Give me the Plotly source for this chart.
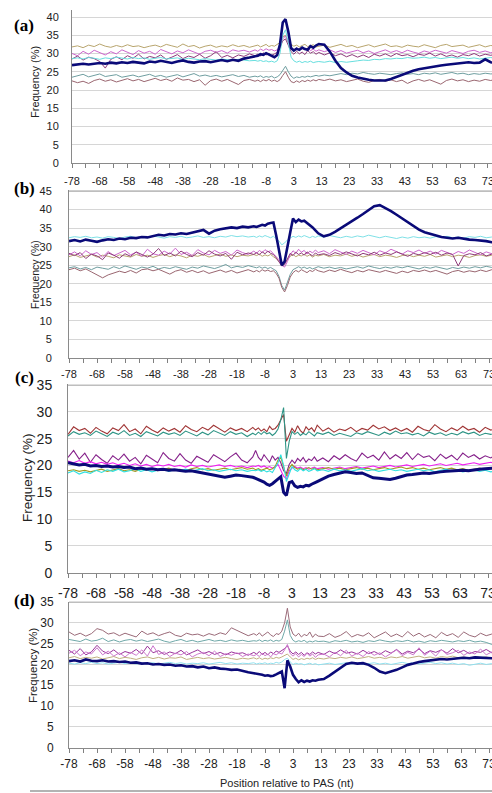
import plotly.graph_objects as go

W, H = 492, 793

# ---------------- category positions (nt relative to PAS; there is no 0) ----------------
POS = [-78, -76, -74, -72, -70, -68, -66, -64, -62, -60, -58, -56, -54, -52, -50, -48, -46,
       -44, -42, -40, -38, -36, -34, -32, -30, -28, -26, -24, -22, -20, -18, -16, -14, -12,
       -11, -10, -9, -8, -7, -6, -5, -4, -3, -2, -1,
       1, 2, 3, 4, 5, 6, 7, 8, 9, 10, 11, 12,
       14, 16, 18, 20, 22, 24, 26, 28, 30, 32, 34, 36, 38, 40, 42, 44, 46, 48, 50, 52, 54,
       56, 58, 60, 62, 64, 66, 68, 70, 72, 74, 76]
TICK_POS = [-78, -68, -58, -48, -38, -28, -18, -8, 3, 13, 23, 33, 43, 53, 63, 73]
Y_TICKS_A = [0, 5, 10, 15, 20, 25, 30, 35, 40]
Y_TICKS_B = [0, 5, 10, 15, 20, 25, 30, 35, 40, 45]
Y_TICKS_CD = [0, 5, 10, 15, 20, 25, 30, 35]

# ---------------- panel (a) ----------------
A_OLIVE = [31.8, 32.1, 31.6, 32.3, 31.9, 32.6, 32.0, 31.7, 32.2, 31.8, 32.4, 31.9, 32.1, 31.6, 32.0, 32.3, 31.8, 32.5, 32.1, 31.7, 32.6, 31.9, 32.2, 31.5, 32.0, 32.3, 31.7, 32.1, 31.8, 32.4, 31.9, 32.2, 31.7, 32.0,
           32.3, 31.8, 32.1, 32.5, 31.9, 32.2, 32.0, 32.4, 33.0, 34.5, 35.0,
           33.0, 32.4, 32.0, 32.3, 31.8, 32.2, 32.5, 31.9, 32.1, 32.4, 31.8, 32.0,
           32.3, 31.7, 32.1, 32.5, 31.9, 32.2, 31.6, 32.0, 32.4, 31.8, 32.2, 32.6, 31.9, 32.1, 31.7, 32.3, 32.0, 31.8, 32.4, 32.1, 31.6, 32.2, 32.5, 31.9, 32.0, 32.3, 31.7, 32.1, 32.4, 31.8, 32.2, 32.0]
A_ORCHID = [30.0, 29.4, 30.6, 29.8, 30.9, 30.2, 29.6, 30.5, 29.9, 31.0, 30.3, 29.7, 30.8, 30.1, 30.6, 29.8, 31.1, 30.4, 29.9, 30.7, 30.2, 31.0, 30.5, 29.8, 30.6, 30.9, 30.3, 30.8, 30.1, 31.0, 30.6, 30.9, 30.4, 31.0,
            30.6, 31.2, 30.8, 31.3, 30.9, 31.1, 30.7, 31.0, 32.0, 34.0, 34.8,
            33.0, 31.5, 31.0, 31.6, 30.9, 31.4, 31.0, 31.5, 30.8, 31.2, 30.6, 31.0,
            30.5, 31.0, 30.3, 30.8, 30.1, 30.6, 30.9, 30.2, 30.7, 30.0, 30.5, 31.0, 30.3, 30.8, 30.2, 30.9, 30.4, 30.0, 30.7, 30.3, 30.9, 30.5, 30.1, 30.8, 30.4, 30.0, 30.6, 30.9, 30.3, 30.7, 30.2, 30.5]
A_PURPLE = [28.5, 29.3, 28.2, 29.0, 28.6, 27.8, 26.0, 28.4, 29.1, 28.3, 29.4, 28.7, 29.8, 28.5, 29.2, 28.8, 29.6, 28.4, 29.0, 29.7, 28.6, 29.3, 28.9, 29.8, 28.7, 29.4, 30.5, 28.9, 29.5, 28.8, 29.6, 29.2, 29.9, 29.4,
            29.8, 29.3, 30.2, 29.6, 30.0, 29.5, 29.9, 30.3, 31.5, 33.5, 34.0,
            32.0, 30.5, 29.8, 30.6, 29.9, 30.4, 29.7, 30.8, 30.1, 30.5, 29.8, 30.3,
            29.6, 30.2, 29.4, 29.9, 29.1, 29.7, 29.0, 29.6, 28.9, 29.8, 29.3, 29.9, 29.2, 30.0, 29.4, 29.7, 29.1, 29.8, 29.5, 30.1, 29.3, 29.9, 29.2, 29.6, 29.0, 29.7, 29.4, 30.0, 29.3, 29.8, 29.5, 29.9]
A_CYAN = [28.6, 28.8, 28.5, 28.9, 28.7, 28.4, 28.8, 28.6, 29.0, 28.7, 28.5, 28.9, 28.6, 28.8, 28.4, 28.7, 28.9, 28.5, 28.6, 28.8, 28.4, 28.7, 28.5, 28.3, 28.6, 28.4, 28.2, 28.5, 28.3, 28.1, 28.4, 28.2, 28.0, 28.1,
          27.9, 28.1, 27.8, 28.0, 27.7, 27.9, 27.6, 28.0, 30.0, 35.0, 36.5,
          33.0, 29.0, 28.0, 27.6, 27.9, 27.5, 27.8, 27.6, 27.9, 27.5, 27.7, 27.8,
          27.6, 27.9, 27.5, 27.8, 27.6, 27.9, 28.0, 28.2, 28.1, 28.4, 28.3, 28.6, 28.5, 28.7, 28.6, 28.9, 28.7, 28.8, 29.0, 28.7, 28.9, 28.6, 28.8, 29.0, 28.7, 28.9, 28.6, 28.8, 28.5, 28.7, 28.9, 28.6]
A_TEAL = [23.5, 23.8, 24.3, 23.6, 24.0, 24.4, 23.7, 23.9, 24.2, 23.5, 23.8, 24.1, 23.6, 23.9, 24.3, 23.7, 24.0, 23.5, 23.8, 24.2, 23.6, 24.0, 24.5, 23.8, 24.1, 23.7, 24.0, 23.6, 23.9, 24.2, 23.7, 24.0, 23.5, 23.8,
          23.6, 23.9, 23.4, 23.7, 23.5, 23.8, 23.3, 23.6, 24.2, 25.5, 26.5,
          25.0, 23.8, 23.2, 23.6, 23.4, 23.7, 23.5, 23.8, 23.6, 23.9, 24.0, 23.8,
          24.1, 23.9, 24.3, 24.5, 24.2, 24.6, 24.4, 24.8, 24.5, 24.3, 24.6, 24.4, 24.2, 24.5, 24.7, 24.3, 24.5, 24.2, 24.6, 24.4, 24.7, 24.3, 24.5, 24.8, 24.4, 24.6, 24.2, 24.5, 24.3, 24.6, 24.4, 24.5]
A_BROWN = [22.5, 22.0, 22.4, 21.8, 22.6, 23.0, 22.4, 22.8, 22.2, 22.7, 23.1, 22.5, 22.9, 22.3, 22.8, 23.2, 22.6, 23.0, 22.4, 23.3, 22.7, 22.9, 22.3, 22.8, 21.3, 22.6, 23.0, 22.4, 22.9, 22.2, 21.5, 22.6, 22.9, 22.4,
           22.7, 22.3, 22.8, 22.5, 22.9, 22.4, 22.7, 22.3, 22.8, 24.0, 25.0,
           23.5, 22.3, 22.0, 22.5, 22.1, 22.6, 22.3, 22.7, 22.4, 22.8, 22.5, 22.9,
           22.6, 23.0, 22.5, 22.8, 22.3, 22.7, 23.0, 22.4, 22.1, 22.6, 22.9, 22.4, 22.8, 22.3, 22.7, 21.8, 22.5, 22.9, 22.4, 22.8, 22.2, 21.6, 22.6, 23.0, 22.5, 22.8, 22.3, 22.7, 22.4, 22.9, 22.6, 23.0]
A_NAVY = [26.8, 27.0, 27.2, 27.0, 27.3, 27.4, 27.2, 27.5, 27.3, 27.6, 27.4, 27.7, 27.5, 27.3, 27.8, 27.6, 28.0, 27.6, 27.4, 27.8, 28.1, 27.7, 27.5, 27.8, 27.9, 27.6, 28.0, 28.2, 27.9, 28.3, 28.0, 28.6, 28.9, 29.2,
          29.4, 29.8, 29.6, 30.1, 29.8, 29.3, 29.0, 29.6, 32.5, 38.5, 39.4,
          36.0, 31.5, 30.8, 31.3, 31.0, 31.6, 31.2, 31.0, 32.0, 31.6, 32.2, 32.6,
          32.4, 30.5, 28.0, 26.0, 24.8, 23.9, 23.4, 23.0, 22.8, 22.6, 22.5, 22.6, 23.0, 23.6, 24.2, 24.8, 25.3, 25.7, 26.0, 26.3, 26.5, 26.7, 26.9, 27.1, 27.3, 27.5, 27.6, 27.4, 27.5, 28.4, 27.6, 27.3]

# ---------------- panel (b) ----------------
B_CYAN = [32.4, 32.7, 32.5, 32.8, 32.4, 32.6, 32.3, 32.7, 32.5, 32.2, 32.6, 32.8, 32.4, 32.7, 32.5, 32.9, 32.6, 32.3, 32.7, 32.5, 32.8, 32.4, 32.6, 32.9, 32.5, 32.7, 32.4, 32.8, 32.6, 33.0, 32.7, 32.9, 32.6, 32.8,
          32.5, 32.9, 32.6, 33.0, 32.7, 32.4, 32.8, 32.2, 31.5, 30.5, 31.0,
          31.8, 32.4, 32.8, 32.5, 32.9, 32.6, 33.0, 32.7, 32.4, 32.8, 32.5, 32.9,
          32.6, 33.0, 32.7, 32.4, 32.8, 32.5, 32.9, 32.6, 33.1, 32.7, 32.4, 32.8, 32.5, 32.2, 32.6, 32.3, 32.7, 32.4, 32.6, 32.3, 32.7, 32.5, 32.8, 32.4, 32.6, 32.3, 32.7, 32.5, 32.8, 32.4, 32.6, 32.3]
B_ORCHID = [27.8, 28.6, 27.5, 28.9, 27.9, 28.4, 27.2, 28.7, 27.6, 28.2, 29.0, 27.8, 28.5, 27.4, 29.3, 28.1, 27.7, 28.8, 28.0, 29.6, 27.9, 28.5, 27.6, 29.2, 28.3, 27.8, 29.0, 28.2, 28.7, 27.7, 29.1, 28.4, 27.9, 28.8,
            28.2, 29.0, 28.4, 29.2, 28.6, 28.9, 28.1, 27.5, 26.5, 25.0, 24.5,
            26.0, 27.8, 28.9, 28.2, 29.3, 28.5, 29.0, 28.0, 28.8, 28.3, 29.1, 28.4,
            28.9, 28.1, 29.2, 28.5, 27.9, 28.8, 28.2, 29.0, 28.4, 27.8, 28.9, 28.3, 29.3, 28.6, 28.0, 28.9, 28.4, 29.1, 28.2, 28.8, 28.0, 29.0, 28.5, 27.9, 28.7, 28.2, 29.1, 28.5, 27.8, 28.6, 28.1, 28.7]
B_PURPLE = [28.2, 27.6, 28.4, 26.8, 28.0, 27.5, 26.5, 28.3, 27.7, 26.9, 28.1, 27.4, 28.6, 27.8, 27.2, 28.0, 29.5, 27.6, 28.3, 27.5, 28.8, 27.9, 27.3, 28.4, 27.7, 28.9, 28.0, 27.5, 28.2, 26.6, 28.5, 27.8, 28.3, 27.9,
            28.4, 27.8, 28.6, 28.1, 28.8, 28.2, 27.9, 27.0, 26.0, 24.8, 25.2,
            26.8, 28.2, 27.6, 28.5, 27.9, 28.3, 27.7, 28.6, 28.0, 27.5, 28.3, 27.8,
            28.1, 27.6, 28.4, 27.9, 28.6, 28.0, 27.5, 28.2, 27.8, 28.5, 27.7, 28.3, 27.9, 28.6, 28.0, 27.4, 28.2, 27.8, 28.4, 27.9, 28.5, 27.7, 28.3, 27.9, 24.8, 27.6, 28.1, 27.8, 28.4, 27.5, 28.0, 27.7]
B_OLIVE = [27.3, 27.8, 27.1, 27.6, 27.9, 27.2, 27.7, 27.4, 27.0, 27.8, 27.5, 27.2, 27.9, 27.4, 27.7, 27.1, 27.6, 27.9, 27.3, 27.8, 27.5, 27.0, 27.7, 27.4, 27.9, 27.2, 27.6, 28.0, 27.4, 27.8, 27.3, 27.7, 27.5, 27.9,
           27.6, 28.0, 27.4, 27.8, 27.5, 27.9, 27.3, 26.8, 26.0, 25.2, 25.5,
           26.5, 27.4, 27.9, 27.3, 27.7, 27.5, 28.0, 27.4, 27.8, 27.2, 27.7, 27.5,
           27.9, 27.3, 27.7, 27.5, 28.0, 27.4, 27.8, 27.2, 27.6, 27.9, 27.3, 27.7, 27.5, 27.1, 27.6, 27.8, 27.3, 27.7, 27.4, 27.9, 27.2, 27.6, 27.8, 27.3, 27.7, 27.5, 27.1, 27.6, 27.8, 27.4, 27.7, 27.3]
B_TEAL = [24.3, 24.6, 24.0, 24.4, 23.8, 24.5, 24.2, 23.9, 24.6, 24.1, 24.8, 24.3, 23.9, 24.5, 24.2, 24.7, 24.0, 24.4, 24.1, 24.6, 24.3, 23.9, 24.5, 24.2, 24.8, 24.4, 24.1, 24.6, 25.2, 24.3, 24.7, 24.4, 24.9, 24.5,
          24.3, 24.6, 24.2, 24.5, 24.1, 24.4, 24.0, 23.5, 22.0, 19.5, 18.3,
          20.5, 22.5, 23.8, 24.3, 24.6, 24.2, 24.5, 24.1, 24.4, 24.0, 24.3, 24.6,
          24.2, 24.5, 24.1, 24.4, 24.0, 24.3, 24.6, 24.2, 24.8, 24.4, 24.1, 24.5, 24.2, 24.6, 24.3, 24.7, 24.4, 24.0, 24.5, 24.2, 24.6, 24.3, 23.9, 24.4, 24.1, 24.5, 24.2, 24.6, 24.3, 24.7, 24.4, 24.8]
B_BROWN = [23.8, 24.2, 23.5, 24.0, 23.2, 22.5, 21.6, 22.4, 22.8, 23.4, 23.0, 23.6, 22.9, 23.8, 24.0, 23.5, 23.9, 23.2, 22.6, 23.4, 23.8, 23.1, 23.6, 23.0, 23.5, 22.8, 23.3, 23.7, 23.1, 23.6, 22.9, 23.4, 23.8, 23.2,
           23.6, 23.2, 23.8, 23.4, 23.7, 23.3, 23.5, 22.8, 21.5, 19.0, 17.8,
           19.5, 21.8, 23.0, 23.6, 23.2, 23.8, 23.4, 23.0, 23.6, 23.3, 23.9, 23.5,
           23.1, 23.7, 23.3, 23.9, 23.4, 23.0, 23.6, 23.2, 23.8, 23.5, 23.1, 23.6, 23.2, 22.8, 23.4, 23.0, 23.6, 23.3, 23.7, 23.2, 23.6, 23.0, 22.6, 23.3, 23.6, 23.1, 23.5, 23.2, 23.7, 23.3, 23.8, 23.5]
B_NAVY = [31.5, 31.8, 31.4, 31.9, 31.6, 31.3, 31.7, 32.0, 31.8, 32.2, 32.0, 32.4, 32.3, 32.6, 32.5, 32.9, 33.2, 33.0, 33.4, 33.3, 33.6, 33.4, 33.8, 34.2, 34.5, 33.5, 34.3, 34.7, 34.9, 35.2, 35.0, 35.4, 35.2, 35.5,
          35.3, 35.6, 35.9, 35.7, 36.2, 36.4, 36.5, 33.0, 28.5, 25.0, 26.0,
          30.5, 33.8, 37.6, 36.6, 37.3, 36.8, 37.0, 36.4, 36.0, 35.2, 34.4, 33.6,
          32.8, 33.2, 34.0, 34.9, 35.9, 36.8, 37.8, 38.8, 39.8, 40.9, 41.2, 40.5, 39.6, 38.6, 37.6, 36.4, 35.4, 34.6, 33.9, 33.4, 33.0, 32.6, 32.4, 32.2, 32.4, 32.1, 31.9, 31.8, 31.7, 31.5, 31.2, 31.1]

# ---------------- panel (c) ----------------
C_DARKRED = [25.8, 27.2, 26.5, 26.9, 26.0, 27.1, 26.4, 25.9, 27.0, 26.5, 27.6, 26.3, 26.8, 25.9, 27.3, 26.6, 26.1, 27.0, 26.4, 26.9, 26.2, 27.4, 26.7, 26.3, 27.1, 26.6, 27.5, 26.8, 26.2, 27.0, 26.5, 26.9, 26.3, 27.1,
             26.6, 27.0, 26.4, 26.8, 26.3, 27.3, 26.7, 26.9, 27.5, 28.5, 29.5,
             24.5, 25.8, 26.9, 26.2, 27.4, 26.5, 26.0, 27.2, 26.6, 27.0, 26.3, 27.5,
             26.4, 27.0, 26.2, 26.8, 26.5, 27.1, 26.3, 26.9, 26.6, 27.5, 26.8, 27.2, 26.5, 27.0, 26.4, 26.9, 26.2, 27.3, 26.7, 26.4, 27.6, 26.8, 26.3, 27.0, 26.5, 27.3, 26.6, 26.9, 26.2, 27.1, 26.6, 26.9]
C_TEAL = [25.5, 26.3, 25.8, 26.1, 25.6, 26.4, 25.9, 25.4, 26.2, 25.8, 26.5, 25.6, 26.0, 25.4, 26.3, 25.9, 25.5, 26.2, 25.8, 26.1, 25.6, 26.4, 25.9, 25.5, 26.2, 25.7, 26.5, 26.0, 25.6, 26.3, 25.8, 26.1, 25.4, 26.0,
          25.7, 26.2, 25.8, 26.3, 25.9, 26.1, 25.6, 26.0, 26.8, 28.5, 30.8,
          21.3, 24.5, 26.3, 25.8, 26.2, 25.6, 26.0, 25.7, 26.3, 25.9, 25.5, 26.1,
          25.8, 26.2, 25.6, 26.0, 25.7, 25.4, 26.1, 25.8, 26.3, 25.9, 25.6, 26.2, 25.8, 26.4, 25.9, 26.1, 25.7, 26.0, 25.5, 26.2, 25.8, 26.1, 25.6, 26.0, 25.7, 26.3, 25.9, 26.2, 25.6, 26.0, 25.8, 26.1]
C_PURPLE = [21.5, 22.8, 21.2, 22.3, 20.6, 22.0, 21.1, 20.4, 21.8, 21.0, 22.1, 20.8, 21.5, 20.3, 21.9, 21.2, 20.5, 22.4, 21.3, 20.8, 22.2, 21.0, 20.4, 21.7, 21.2, 20.6, 22.0, 21.3, 20.7, 21.6, 22.3, 21.0, 20.5, 21.6,
            22.8, 21.5, 20.9, 22.0, 21.3, 20.6, 21.8, 21.0, 21.5, 20.5, 19.0,
            18.5, 20.2, 21.0, 20.4, 21.3, 20.8, 21.5, 20.6, 21.2, 20.9, 21.6, 20.8,
            21.4, 20.7, 21.8, 21.1, 22.0, 21.3, 20.8, 22.3, 21.4, 21.9, 21.0, 22.5, 21.2, 22.0, 21.3, 22.4, 21.1, 22.2, 21.5, 21.8, 20.9, 22.1, 21.3, 21.9, 21.0, 22.3, 21.5, 22.0, 21.2, 21.8, 21.4, 22.1]
C_MAGENTA = [20.8, 20.5, 20.9, 20.4, 20.7, 20.3, 20.6, 20.2, 20.5, 20.1, 20.4, 20.0, 20.3, 19.9, 20.2, 19.8, 20.1, 19.9, 20.2, 19.8, 20.0, 19.7, 20.1, 19.8, 20.0, 19.7, 19.9, 20.1, 19.8, 20.0, 19.7, 19.9, 19.6, 19.9,
             19.8, 20.0, 19.7, 19.9, 19.6, 19.8, 19.5, 19.7, 20.2, 19.0, 18.0,
             17.5, 19.0, 19.5, 19.8, 19.5, 19.7, 19.4, 19.6, 19.3, 19.5, 19.7, 19.4,
             19.6, 19.3, 19.5, 19.7, 19.4, 19.6, 19.8, 19.5, 19.7, 19.9, 19.6, 19.8, 20.0, 19.7, 19.9, 20.1, 19.8, 20.0, 20.2, 19.9, 20.1, 20.3, 20.0, 20.2, 20.4, 20.1, 20.3, 20.5, 20.2, 20.4, 20.6, 20.3]
C_OLIVE = [19.0, 19.2, 18.9, 19.1, 18.8, 19.0, 19.3, 18.9, 19.1, 19.4, 19.0, 19.2, 18.9, 19.3, 19.1, 19.4, 19.0, 19.2, 19.5, 19.1, 19.3, 19.0, 19.4, 19.6, 19.2, 19.4, 19.1, 19.3, 19.5, 19.2, 19.4, 19.6, 19.3, 19.5,
           19.2, 19.4, 19.1, 19.3, 19.5, 19.2, 19.4, 19.8, 21.0, 21.5, 19.5,
           18.0, 19.5, 20.2, 19.6, 19.3, 19.5, 19.2, 19.4, 19.6, 19.3, 19.5, 19.2,
           19.4, 19.6, 19.3, 19.5, 19.2, 19.4, 19.6, 19.3, 19.5, 19.2, 19.4, 19.6, 19.3, 19.5, 19.7, 19.4, 19.6, 19.3, 19.5, 19.2, 19.4, 19.6, 19.3, 19.5, 19.2, 19.4, 19.1, 19.3, 19.5, 19.2, 19.4, 19.3]
C_CYAN = [18.6, 19.0, 18.4, 18.8, 18.5, 19.1, 18.7, 19.2, 18.9, 19.3, 18.8, 19.0, 19.4, 18.9, 19.2, 18.8, 19.1, 19.3, 18.9, 19.2, 19.0, 19.3, 18.9, 19.1, 19.4, 19.0, 19.2, 18.9, 19.1, 19.3, 19.0, 19.2, 18.9, 19.1,
          19.0, 19.2, 18.9, 19.1, 18.8, 19.0, 18.7, 19.5, 20.5, 22.0, 20.0,
          17.0, 18.5, 19.8, 19.2, 18.9, 19.4, 19.0, 19.3, 18.9, 19.1, 19.4, 19.0,
          19.2, 18.9, 19.3, 19.0, 19.2, 18.9, 19.1, 19.4, 19.0, 19.2, 18.9, 19.1, 19.3, 19.0, 19.2, 18.9, 19.1, 19.3, 19.0, 19.2, 18.8, 19.0, 19.3, 18.9, 19.1, 18.8, 19.0, 19.2, 18.9, 19.1, 18.8, 19.0]
C_NAVY = [20.5, 20.3, 20.1, 20.2, 19.9, 20.0, 19.8, 19.9, 19.7, 19.8, 19.6, 19.7, 19.4, 19.5, 19.3, 19.4, 19.2, 19.3, 19.1, 19.2, 19.0, 18.9, 19.0, 18.8, 18.6, 18.5, 18.3, 18.0, 17.8, 18.0, 18.2, 18.1, 18.0, 17.8,
          17.6, 17.4, 17.1, 16.9, 16.5, 16.3, 16.6, 17.0, 17.4, 17.9, 15.0,
          14.4, 16.8, 17.0, 16.2, 15.9, 16.1, 16.0, 16.3, 16.2, 16.5, 16.8, 17.0,
          17.5, 18.0, 18.3, 18.6, 18.8, 18.7, 18.5, 18.6, 18.2, 17.7, 17.6, 17.5, 17.4, 17.6, 17.9, 18.2, 18.3, 18.5, 18.6, 18.5, 18.7, 18.8, 18.9, 19.0, 19.1, 19.1, 19.0, 19.2, 19.3, 19.4, 19.5, 19.5]

# ---------------- panel (d) ----------------
D_MAUVE = [27.8, 27.0, 27.5, 26.8, 27.4, 28.6, 28.2, 27.3, 27.6, 26.9, 27.5, 27.1, 26.6, 28.0, 27.2, 27.6, 26.9, 27.4, 27.8, 27.0, 26.7, 27.5, 27.1, 27.3, 26.8, 27.4, 27.0, 27.6, 27.2, 28.8, 28.2, 27.5, 26.9, 27.4,
           27.0, 27.6, 26.8, 27.3, 27.8, 27.1, 26.7, 27.4, 27.2, 28.0, 30.0,
           33.5, 29.0, 27.3, 26.8, 27.5, 26.6, 27.2, 26.9, 27.8, 26.5, 27.3, 26.8,
           26.7, 27.4, 26.5, 27.0, 27.9, 26.6, 27.2, 26.8, 27.6, 26.4, 27.1, 27.8, 26.7, 27.3, 26.6, 27.9, 26.8, 27.5, 26.6, 27.2, 26.4, 27.7, 26.9, 27.4, 26.5, 27.8, 27.0, 26.6, 27.5, 26.9, 27.3, 26.8]
D_TEAL = [26.0, 25.7, 25.5, 26.1, 25.6, 25.8, 26.3, 25.5, 25.9, 25.4, 25.8, 26.0, 25.6, 25.9, 25.5, 25.8, 26.1, 25.6, 25.3, 25.7, 26.0, 25.5, 25.8, 25.4, 25.7, 26.0, 25.6, 25.8, 25.5, 25.9, 25.6, 25.8, 25.5, 25.7,
          25.6, 25.9, 25.5, 25.8, 25.6, 25.9, 25.5, 25.8, 25.6, 26.0, 28.0,
          30.7, 27.0, 25.8, 25.4, 25.7, 25.5, 25.8, 25.3, 25.6, 25.4, 25.7, 25.5,
          25.6, 25.3, 25.7, 25.5, 25.8, 25.4, 25.6, 25.3, 25.7, 25.5, 25.9, 25.6, 25.4, 25.7, 25.5, 25.8, 25.4, 25.6, 25.3, 25.7, 25.5, 25.8, 25.6, 25.4, 25.7, 25.5, 25.8, 25.4, 25.6, 25.3, 24.8, 25.5]
D_PURPLE = [23.4, 22.5, 23.8, 22.3, 23.0, 24.6, 23.2, 22.6, 23.5, 22.4, 23.1, 22.7, 23.6, 22.5, 24.4, 22.8, 23.3, 22.4, 23.0, 22.6, 23.4, 22.3, 22.9, 23.5, 22.6, 23.1, 22.4, 22.9, 22.3, 23.0, 22.6, 22.8, 22.2, 22.9,
            22.5, 23.1, 22.4, 22.9, 22.3, 23.0, 22.6, 23.2, 22.9, 23.3, 23.8,
            24.5, 23.2, 22.5, 23.0, 22.4, 22.9, 22.2, 22.8, 22.4, 23.0, 22.5, 22.9,
            22.4, 23.2, 22.6, 23.5, 22.7, 23.0, 22.5, 23.4, 22.6, 23.1, 22.4, 23.3, 22.7, 23.6, 22.5, 23.2, 22.8, 23.7, 22.6, 23.3, 22.9, 23.5, 22.7, 23.8, 22.8, 23.4, 22.6, 23.1, 22.9, 23.6, 22.8, 23.3]
D_ORCHID = [22.7, 23.4, 22.1, 23.0, 22.5, 24.0, 22.3, 23.2, 22.0, 22.8, 21.8, 22.9, 22.2, 23.5, 22.0, 24.5, 22.4, 23.0, 21.9, 22.7, 22.3, 23.1, 21.8, 22.5, 22.9, 22.1, 23.2, 21.9, 22.6, 22.2, 22.8, 21.9, 22.5, 22.1,
            22.4, 21.9, 22.7, 22.1, 22.5, 21.8, 22.6, 22.3, 22.8, 22.5, 23.5,
            24.8, 22.6, 22.0, 22.6, 21.8, 22.4, 21.9, 22.7, 22.0, 22.5, 21.7, 22.3,
            22.5, 21.8, 22.9, 22.1, 23.4, 22.0, 22.7, 21.9, 23.1, 22.2, 22.8, 21.8, 22.6, 23.5, 22.1, 22.9, 22.3, 24.0, 22.2, 23.2, 22.0, 23.6, 22.4, 22.8, 23.4, 22.2, 23.0, 22.5, 23.7, 22.3, 23.0, 22.6]
D_OLIVE = [21.6, 21.9, 21.4, 21.7, 21.5, 21.8, 21.3, 21.6, 21.9, 21.4, 21.7, 21.5, 21.2, 21.6, 21.8, 21.4, 21.7, 21.3, 21.6, 21.5, 21.8, 21.2, 21.5, 21.7, 21.4, 21.6, 21.3, 21.5, 21.7, 21.4, 21.2, 21.5, 21.3, 21.6,
           21.3, 21.6, 21.2, 21.5, 21.3, 21.6, 21.4, 21.7, 21.5, 21.8, 22.2,
           22.5, 21.8, 21.2, 21.5, 21.1, 21.4, 21.2, 21.5, 21.3, 21.6, 21.2, 21.5,
           21.3, 21.6, 21.4, 21.7, 21.5, 21.8, 21.4, 21.6, 21.9, 21.5, 21.7, 21.4, 21.8, 21.6, 21.9, 21.5, 21.7, 22.0, 21.6, 21.8, 21.5, 21.9, 21.7, 22.0, 21.6, 21.8, 21.5, 21.9, 21.6, 21.8, 21.5, 21.7]
D_CYAN = [20.3, 20.1, 20.4, 20.2, 20.5, 20.2, 20.4, 20.1, 20.3, 20.5, 20.2, 20.4, 20.1, 20.3, 20.2, 20.4, 20.1, 20.3, 20.5, 20.2, 20.4, 20.1, 20.3, 20.2, 20.4, 20.1, 20.3, 20.5, 20.2, 20.4, 20.1, 20.3, 20.2, 20.4,
          20.1, 20.3, 20.2, 20.4, 20.1, 20.3, 20.2, 20.5, 20.3, 20.6, 21.2,
          21.5, 20.6, 20.0, 20.3, 20.1, 20.2, 19.9, 20.1, 20.3, 20.0, 20.2, 19.9,
          20.1, 20.3, 20.0, 20.2, 20.4, 20.1, 20.3, 20.0, 20.2, 20.4, 20.1, 20.3, 20.0, 20.2, 20.5, 20.2, 20.4, 20.1, 20.3, 20.5, 20.2, 20.4, 20.1, 20.3, 20.0, 20.2, 19.8, 20.1, 20.3, 20.0, 20.2, 20.1]
D_NAVY = [20.8, 21.0, 20.7, 21.2, 20.9, 20.8, 21.0, 20.7, 20.8, 20.6, 20.7, 20.4, 20.5, 20.2, 20.3, 20.0, 20.1, 19.9, 20.0, 19.7, 19.8, 19.5, 19.6, 19.3, 19.5, 19.1, 19.3, 19.0, 18.9, 18.7, 18.8, 18.4, 18.1, 17.9,
          17.8, 17.6, 17.5, 17.3, 17.4, 17.2, 17.3, 17.6, 18.0, 18.3, 14.3,
          21.0, 19.5, 17.5, 16.5, 15.7, 16.2, 15.8, 16.1, 15.9, 16.2, 16.1, 16.3,
          16.5, 17.3, 18.2, 19.2, 20.1, 20.4, 20.2, 20.3, 19.9, 19.2, 18.3, 17.9, 18.3, 18.7, 19.3, 19.9, 20.2, 20.6, 20.8, 21.0, 21.1, 21.3, 21.2, 21.4, 21.5, 21.6, 21.5, 21.7, 21.6, 21.6, 21.5, 21.6]


def to_idx(p):
    # category index on the axis (no position 0)
    return p + 78 if p < 0 else p + 77


X = [to_idx(p) for p in POS]

NAVY = "#0a0a78"
panels = [
    dict(label="(a)", lab_y=25, yticks=Y_TICKS_A, ymax=42, y0px=163, scale=3.65, top_line=None,
         x0px=72, ppi=2.773, tfont=11, xfont=11, xstand=4, ytitle=dict(x=35, y=82, size=11), ystand=10,
         series=[(A_OLIVE, "#b8a56e", 1), (A_ORCHID, "#cc66cc", 1), (A_PURPLE, "#8e3b7a", 1),
                 (A_CYAN, "#66dede", 1), (A_TEAL, "#6f9ea0", 1), (A_BROWN, "#9a6670", 1),
                 (A_NAVY, NAVY, 2.6)]),
    dict(label="(b)", lab_y=188, yticks=Y_TICKS_B, ymax=45.2, y0px=358, scale=3.711, top_line=45,
         x0px=69, ppi=2.8, tfont=11, xfont=11, xstand=2, ytitle=dict(x=35, y=275, size=10.5), ystand=14,
         series=[(B_CYAN, "#7fe0e6", 1), (B_OLIVE, "#b8a56e", 1), (B_ORCHID, "#cc66cc", 1),
                 (B_PURPLE, "#8e3b7a", 1), (B_TEAL, "#6f9ea0", 1), (B_BROWN, "#9a6670", 1),
                 (B_NAVY, NAVY, 2.6)]),
    dict(label="(c)", lab_y=377, yticks=Y_TICKS_CD, ymax=35.1, y0px=572.7, scale=5.363, top_line=35,
         x0px=68, ppi=2.8, tfont=14, xfont=14, xstand=3, ytitle=dict(x=27, y=478, size=13.5), ystand=12,
         series=[(C_DARKRED, "#a03535", 1.1), (C_TEAL, "#2e9485", 1.1), (C_PURPLE, "#85208a", 1.1),
                 (C_MAGENTA, "#f020f0", 1.1), (C_OLIVE, "#a09a20", 1.1), (C_CYAN, "#30e0e0", 1.1),
                 (C_NAVY, NAVY, 3)]),
    dict(label="(d)", lab_y=600, yticks=Y_TICKS_CD, ymax=35.1, y0px=747.7, scale=4.163, top_line=35,
         x0px=69, ppi=2.8, tfont=12, xfont=12, xstand=1, ytitle=dict(x=33, y=665, size=11.5), ystand=12,
         series=[(D_MAUVE, "#9a6a78", 1), (D_TEAL, "#6fa8a8", 1), (D_OLIVE, "#c0b080", 1),
                 (D_PURPLE, "#993399", 1), (D_ORCHID, "#cc77cc", 1), (D_CYAN, "#90e0ee", 1),
                 (D_NAVY, NAVY, 2.6)]),
]

fig = go.Figure()
layout = dict(width=W, height=H, autosize=False,
              margin=dict(l=0, r=0, t=0, b=0, pad=0, autoexpand=False),
              paper_bgcolor="white", plot_bgcolor="white", showlegend=False,
              annotations=[], shapes=[])

tick_vals = [to_idx(p) for p in TICK_POS]
tick_text = [str(p) for p in TICK_POS]

for i, pn in enumerate(panels, start=1):
    xa = "x" if i == 1 else f"x{i}"
    ya = "y" if i == 1 else f"y{i}"
    for vals, col, lw in pn["series"]:
        fig.add_trace(go.Scatter(x=X, y=vals, mode="lines", xaxis=xa, yaxis=ya,
                                 line=dict(color=col, width=lw), hoverinfo="skip"))
    xr = (W - pn["x0px"]) / pn["ppi"]
    xkey = "xaxis" if i == 1 else f"xaxis{i}"
    ykey = "yaxis" if i == 1 else f"yaxis{i}"
    layout[xkey] = dict(domain=[pn["x0px"] / W, 1], range=[0, xr], anchor=ya,
                        tickmode="array", tickvals=tick_vals, ticktext=tick_text,
                        ticks="outside", ticklen=4, tickcolor="#808080", tickwidth=1,
                        minor=dict(tick0=0, dtick=5, ticks="outside", ticklen=4,
                                   tickcolor="#808080", showgrid=False),
                        showline=True, linecolor="#8a8a8a", linewidth=1, showgrid=False,
                        zeroline=False, ticklabelstandoff=pn["xstand"], automargin=False,
                        ticklabeloverflow="allow",
                        tickfont=dict(family="Liberation Sans, Arial", size=pn["xfont"], color="#222"))
    ytop_px = pn["y0px"] - pn["ymax"] * pn["scale"]
    layout[ykey] = dict(domain=[1 - pn["y0px"] / H, 1 - ytop_px / H], range=[0, pn["ymax"]], anchor=xa,
                        tickmode="array", tickvals=pn["yticks"],
                        ticktext=[str(v) for v in pn["yticks"]], ticks="",
                        showline=True, linecolor="#8a8a8a", linewidth=1, automargin=False,
                        showgrid=True, gridcolor="#d6d6d6", gridwidth=1, zeroline=False,
                        ticklabelstandoff=pn["ystand"], ticklabeloverflow="allow",
                        tickfont=dict(family="Liberation Sans, Arial", size=pn["tfont"], color="#222"))
    if pn["top_line"] is not None:
        layout["shapes"].append(dict(type="line", xref=f"{xa} domain", yref=ya, x0=0, x1=1,
                                     y0=pn["top_line"], y1=pn["top_line"],
                                     line=dict(color="#a8a8a8", width=1.3)))
    layout["annotations"].append(dict(
        text="<b>" + pn["label"] + "</b>", xref="paper", yref="paper",
        x=24 / W, y=1 - pn["lab_y"] / H, xanchor="center", yanchor="middle", showarrow=False,
        font=dict(family="Liberation Serif, Times New Roman", size=17, color="black")))
    t = pn["ytitle"]
    layout["annotations"].append(dict(
        text="Frequency (%)", xref="paper", yref="paper", x=t["x"] / W, y=1 - t["y"] / H,
        xanchor="center", yanchor="middle", showarrow=False, textangle=-90,
        font=dict(family="Liberation Sans, Arial", size=t["size"], color="#222")))

layout["annotations"].append(dict(
    text="Position relative to PAS (nt)", xref="paper", yref="paper", x=287 / W, y=1 - 783 / H,
    xanchor="center", yanchor="middle", showarrow=False,
    font=dict(family="Liberation Sans, Arial", size=11, color="#222")))
layout["shapes"].append(dict(type="line", xref="paper", yref="paper", x0=30 / W, x1=1,
                             y0=1 - 791 / H, y1=1 - 791 / H, line=dict(color="#9a9a9a", width=1.5)))

fig.update_layout(**layout)
fig.write_html("out.html", config={"displayModeBar": False, "staticPlot": True},
               post_script="document.body.style.margin='0';document.body.style.padding='0';"
                           "document.body.style.overflow='hidden';")
